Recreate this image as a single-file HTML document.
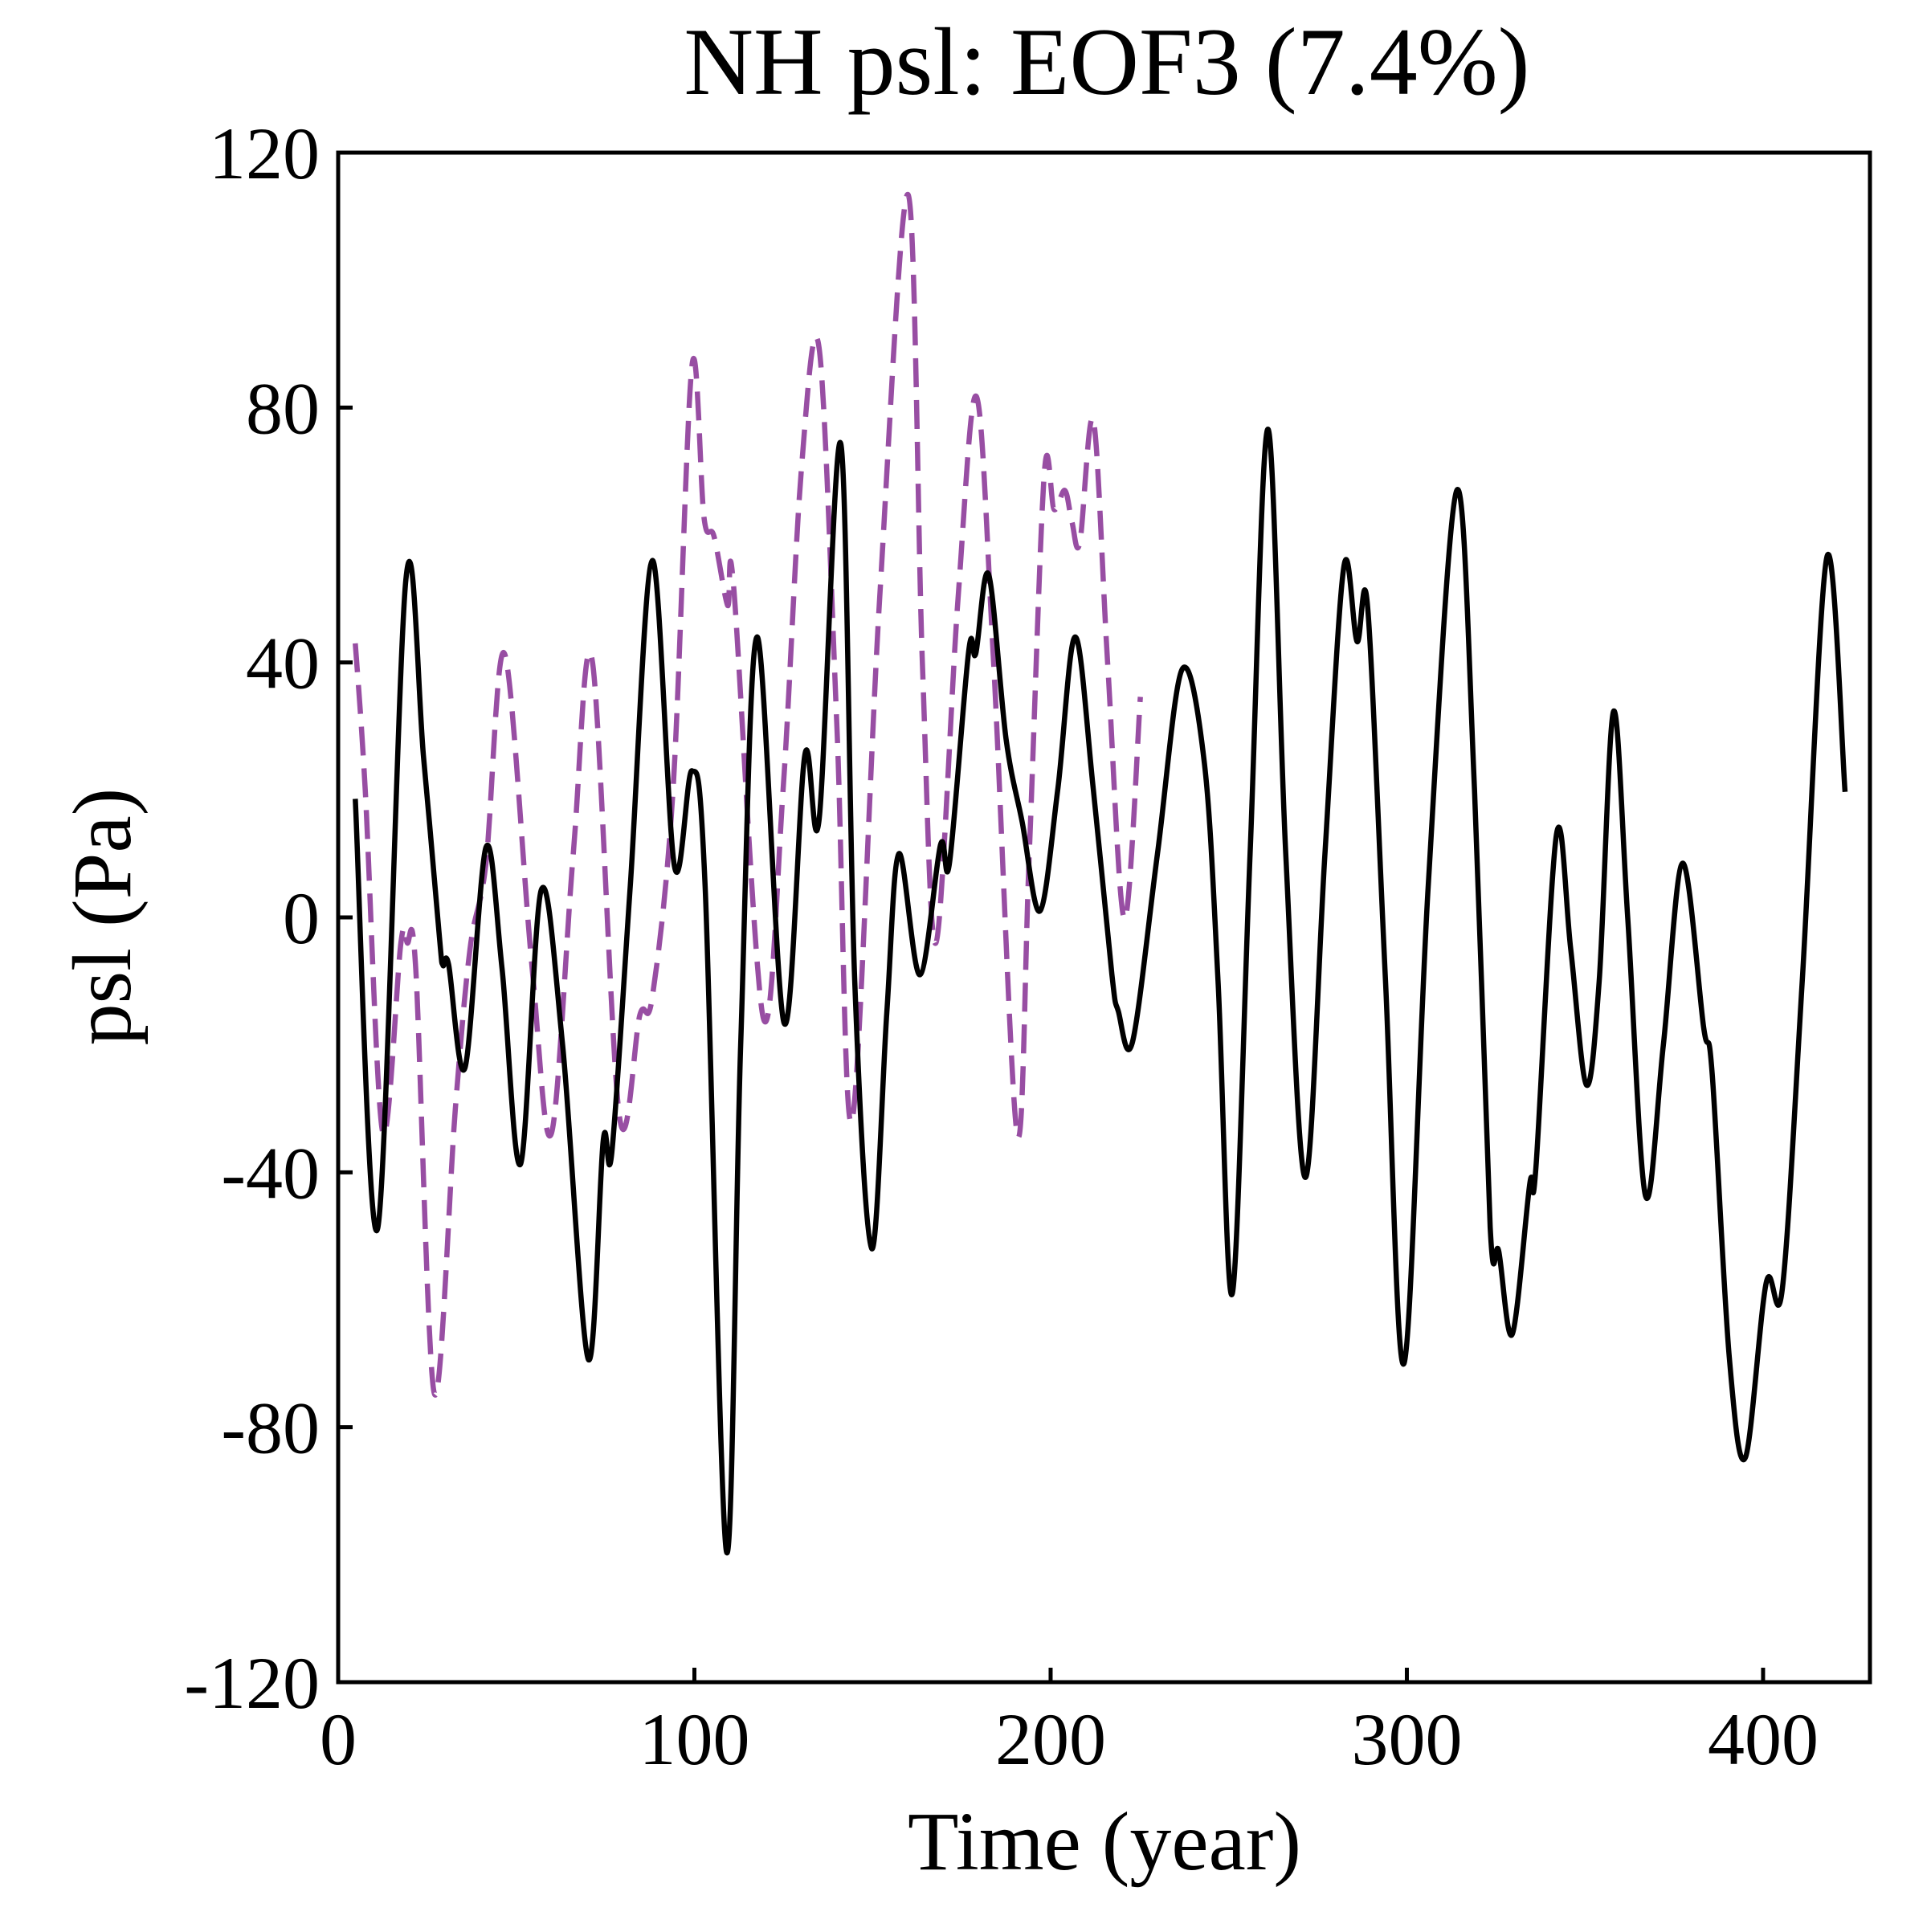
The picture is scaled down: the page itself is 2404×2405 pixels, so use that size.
<!DOCTYPE html>
<html><head><meta charset="utf-8"><style>
html,body{margin:0;padding:0;background:#fff}
svg text{font-family:"Liberation Serif",serif;fill:#000}
</style></head><body>
<svg id="chart" width="2404" height="2400" viewBox="0 0 2404 2400" xmlns="http://www.w3.org/2000/svg">
<rect x="0" y="0" width="2404" height="2400" fill="#fff"/>
<text x="1378" y="117" font-size="120" text-anchor="middle">NH psl: EOF3 (7.4%)</text>
<text x="1375" y="2327" font-size="104" text-anchor="middle">Time (year)</text>
<text x="0" y="0" font-size="104" text-anchor="middle" transform="translate(162,1141) rotate(-90)">psl (Pa)</text>
<g id="ticks"></g>
<g id="series"></g>
<rect x="421" y="190" width="1907" height="1904" fill="none" stroke="#000" stroke-width="5"/>
</svg>
<script>
const xTicks=[0,100,200,300,400];
const yTicks=[-120,-80,-40,0,40,80,120];
const blackYears=[4.8,11.1,19,24,28.4,29.4,31,35.6,41.5,46,51.2,57,63,70.2,74.4,76.8,82,88.2,94.4,99.3,103,109,113,117.6,125.2,131,135,141.1,145,149.8,154,157.4,163.3,169.1,171.6,177,179,182.6,187.5,192,197,202,206.9,212,217.2,219,223,230,236.9,243.2,247,251,256,261,266,271.5,277,282.3,286,289,294,299.2,306,314,319,323.4,325.8,329.6,334.5,336.2,342,346,350.4,354,358,362,367,372,377.4,383.3,385.7,390.5,395,400.9,405.4,411,417.9,423];
const blackValues=[18.6,-48.8,53,25,-3,-7.5,-7.4,-23.6,11,-8,-38.7,4.3,-20,-69.3,-35,-37,5,56,8,23,5,-99.5,-20,44,-16.6,25.5,15.3,74.3,-10,-52,-15,10,-9,11.4,8.5,41.8,41.4,53.8,28,15,1,20,44,20,-9,-14.7,-19.5,10,38.9,24,-10,-59,10,76.6,10,-40.8,10,55,43.3,48.6,-10,-70,5,67,20,-48.6,-52.4,-65.4,-41.8,-39.5,13,-5,-26.3,-10,32.3,0,-43.7,-20,8.5,-17.2,-24.4,-68.9,-84.8,-57.3,-58.3,-10,56.5,19.7];
const purpleYears=[4.8,7.6,12.5,17.6,19.4,21.8,27,32.9,37,41.5,46.7,54.3,59.8,66,71.3,78.9,84.7,88.2,94,99.3,102.7,105.5,109.3,111,119.3,124.9,130,135,140,144.2,152,160,164,167.8,174,179.2,184,190.6,194,198.2,201,204,206,208.2,212,216,220.7,225.2];
const purpleValues=[43,20,-33.7,-4,-4,-8.3,-74.7,-30,-5,8.5,41.4,-7,-34,10,40.4,-31,-15.3,-12.4,20,86.5,62.7,59.8,49,52,-15.7,20,70,89.4,30,-32,50,113.4,40,-4,50,81.7,40,-34,10,69.5,64,67,62,58.8,78,40,-0.2,34.6];
const X0=421,X1=2328,Y0=2094,Y1=190,XMIN=0,XMAX=430,YMIN=-120,YMAX=120;
const NS='http://www.w3.org/2000/svg';
function sx(v){return X0+(v-XMIN)/(XMAX-XMIN)*(X1-X0);}
function sy(v){return Y0-(v-YMIN)/(YMAX-YMIN)*(Y0-Y1);}
const tg=document.getElementById('ticks');
xTicks.forEach(t=>{
  const l=document.createElementNS(NS,'line');
  l.setAttribute('x1',sx(t));l.setAttribute('x2',sx(t));l.setAttribute('y1',Y0);l.setAttribute('y2',Y0-18);
  l.setAttribute('stroke','#000');l.setAttribute('stroke-width','5');
  
  
  tg.appendChild(l);
  const tx=document.createElementNS(NS,'text');
  tx.setAttribute('x',sx(t));tx.setAttribute('y',2196);tx.setAttribute('font-size','92');tx.setAttribute('text-anchor','middle');
  tx.textContent=t;
  
  
  tg.appendChild(tx);
});
yTicks.forEach(t=>{
  const l=document.createElementNS(NS,'line');
  l.setAttribute('x1',X0);l.setAttribute('x2',X0+18);l.setAttribute('y1',sy(t));l.setAttribute('y2',sy(t));
  l.setAttribute('stroke','#000');l.setAttribute('stroke-width','5');
  
  
  tg.appendChild(l);
  const tx=document.createElementNS(NS,'text');
  tx.setAttribute('x',398);tx.setAttribute('y',sy(t)+32);tx.setAttribute('font-size','92');tx.setAttribute('text-anchor','end');
  tx.textContent=t;
  
  
  tg.appendChild(tx);
});
function smoothPath(xs,ys){
  const p=xs.map((x,i)=>[sx(x),sy(ys[i])]);
  let d='M'+p[0][0].toFixed(1)+','+p[0][1].toFixed(1);
  for(let i=0;i<p.length-1;i++){
    const a=p[Math.max(i-1,0)],b=p[i],c=p[i+1],e=p[Math.min(i+2,p.length-1)];
    const c1x=b[0]+(c[0]-a[0])/6,c1y=b[1]+(c[1]-a[1])/6;
    const c2x=c[0]-(e[0]-b[0])/6,c2y=c[1]-(e[1]-b[1])/6;
    d+=' C'+c1x.toFixed(1)+','+c1y.toFixed(1)+' '+c2x.toFixed(1)+','+c2y.toFixed(1)+' '+c[0].toFixed(1)+','+c[1].toFixed(1);
  }
  return d;
}
const sg=document.getElementById('series');
const pp=document.createElementNS(NS,'path');
pp.setAttribute('d',smoothPath(purpleYears,purpleValues));
pp.setAttribute('fill','none');pp.setAttribute('stroke','#984ea3');pp.setAttribute('stroke-width','6.5');pp.setAttribute('stroke-dasharray','36,16');


sg.appendChild(pp);
const bp=document.createElementNS(NS,'path');
bp.setAttribute('d',smoothPath(blackYears,blackValues));
bp.setAttribute('fill','none');bp.setAttribute('stroke','#000');bp.setAttribute('stroke-width','6.5');bp.setAttribute('stroke-linejoin','round');


sg.appendChild(bp);
</script>
</body></html>
